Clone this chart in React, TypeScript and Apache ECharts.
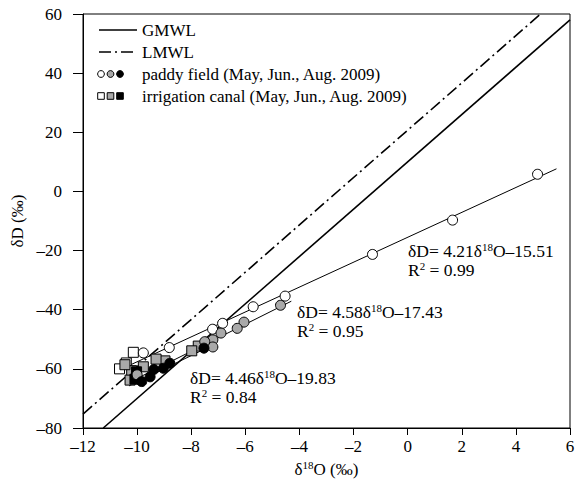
import { useEffect, useRef } from "react";
import * as echarts from "echarts";

const FONT = "'Liberation Serif', 'Times New Roman', serif";

const xMin = -12;
const xMax = 6;
const xInterval = 2;
const yMin = -80;
const yMax = 60;
const yInterval = 20;

// meteoric water lines  δD = slope·δ18O + intercept
const gmwl = { slope: 8, intercept: 10 };
const lmwl = { slope: 8.0, intercept: 20.7 };

// paddy field samples [δ18O, δD]
const paddyMay: number[][] = [
  [4.8, 5.8], [1.66, -9.7], [-1.3, -21.3], [-4.53, -35.4], [-5.71, -39.0],
  [-6.84, -44.6], [-7.21, -46.6], [-8.81, -52.8], [-9.77, -54.6],
];
const paddyJun: number[][] = [
  [-4.7, -38.5], [-6.05, -44.2], [-6.3, -46.3], [-6.9, -47.9], [-7.2, -50.2],
  [-7.2, -52.6], [-7.5, -50.8], [-10.0, -62.0],
];
const paddyAug: number[][] = [
  [-7.53, -53.0], [-8.79, -58.1], [-9.03, -59.8], [-9.38, -60.2], [-9.52, -62.7], [-9.83, -64.3],
];

// irrigation canal samples [δ18O, δD]
const canalMay: number[][] = [[-10.14, -54.4], [-10.4, -58.0], [-10.65, -60.0]];
const canalJun: number[][] = [
  [-7.74, -52.3], [-7.98, -53.9], [-8.97, -57.3], [-9.3, -56.7], [-9.77, -59.3],
  [-10.2, -60.6], [-10.26, -63.8], [-10.45, -58.6],
];
const canalAug: number[][] = [[-10.02, -61.0], [-10.08, -63.5]];

// regression lines
const fitMay = { slope: 4.21, intercept: -15.51, r2: "0.99", from: -10.3, to: 5.5 };
const fitJun = { slope: 4.58, intercept: -17.43, r2: "0.95", from: -10.4, to: -4.3 };
const fitAug = { slope: 4.46, intercept: -19.83, r2: "0.84", from: -10.3, to: -7.4 };

const legendLabels = [
  "GMWL",
  "LMWL",
  "paddy field (May, Jun., Aug. 2009)",
  "irrigation canal (May, Jun., Aug. 2009)",
];

const GRAY = "#a9a9a9";

function segment(slope: number, intercept: number, x0: number, x1: number) {
  const xa = (yMin - intercept) / slope;
  const xb = (yMax - intercept) / slope;
  const a = Math.max(x0, Math.min(xa, xb));
  const b = Math.min(x1, Math.max(xa, xb));
  return [
    [a, slope * a + intercept],
    [b, slope * b + intercept],
  ];
}

const dash = (v: number) => String(v).replace("-", "–");

export default function App() {
  const ref = useRef<HTMLDivElement>(null);
  useEffect(() => {
    if (!ref.current) return;
    const chart = echarts.init(ref.current, undefined, { renderer: "svg" });

    const lineSeries = (data: number[][], width: number, type: any, z = 2) => ({
      type: "line",
      data,
      showSymbol: false,
      symbol: "none",
      silent: true,
      z,
      lineStyle: { color: "#000", width, type },
    });

    const scatter = (data: number[][], symbol: string, fill: string) => ({
      type: "scatter",
      data,
      symbol,
      symbolSize: 10,
      z: 3,
      itemStyle: { color: fill, borderColor: "#000", borderWidth: 1, opacity: 1 },
    });

    const rich = {
      m: { fontSize: 17.5, fontFamily: FONT, fill: "#000", color: "#000", lineHeight: 19 },
      s: { fontSize: 11, fontFamily: FONT, fill: "#000", color: "#000", verticalAlign: "top", lineHeight: 19 },
    };

    const eqText = (f: { slope: number; intercept: number; r2: string }) =>
      `{m|δD= ${f.slope}δ}{s|18}{m|O–${Math.abs(f.intercept)}}\n{m|R}{s|2}{m| = ${f.r2}}`;

    const annPos = [
      { f: fitMay, x: 408, y: 241 },
      { f: fitJun, x: 297, y: 302 },
      { f: fitAug, x: 190, y: 368 },
    ];

    const graphics: any[] = [];
    annPos.forEach((p) => {
      graphics.push({
        type: "text",
        x: p.x,
        y: p.y,
        z: 10,
        style: { text: eqText(p.f), rich, verticalAlign: "top", textVerticalAlign: "top" },
      });
    });

    // legend
    const lx0 = 99;
    const lx1 = 137;
    const tx = 142;
    const rows = [30, 52, 74, 96];
    graphics.push({
      type: "line",
      shape: { x1: lx0, y1: rows[0], x2: lx1, y2: rows[0] },
      style: { stroke: "#000", lineWidth: 1.5 },
    });
    graphics.push({
      type: "line",
      shape: { x1: lx0, y1: rows[1], x2: lx1, y2: rows[1] },
      style: { stroke: "#000", lineWidth: 1.5, lineDash: [12, 4, 2, 4] },
    });
    const fills = ["#fff", GRAY, "#000"];
    fills.forEach((c, i) => {
      graphics.push({
        type: "circle",
        shape: { cx: 101 + i * 9.5, cy: rows[2], r: 3.4 },
        style: { fill: c, stroke: "#000", lineWidth: 1 },
      });
      graphics.push({
        type: "rect",
        shape: { x: 97.7 + i * 9.5, y: rows[3] - 3.3, width: 6.6, height: 6.6 },
        style: { fill: c, stroke: "#000", lineWidth: 1 },
      });
    });
    legendLabels.forEach((t, i) => {
      graphics.push({
        type: "text",
        x: tx,
        y: rows[i],
        style: {
          text: t,
          fill: "#000",
          font: `17px ${FONT}`,
          fontSize: 17,
          fontFamily: FONT,
          verticalAlign: "middle",
          textVerticalAlign: "middle",
        },
      });
    });

    chart.setOption({
      animation: false,
      backgroundColor: "#fff",
      grid: {
        left: 83,
        right: 9,
        top: 14,
        bottom: 65,
        show: true,
        borderColor: "#000",
        borderWidth: 1,
        backgroundColor: "transparent",
      },
      xAxis: {
        type: "value",
        min: xMin,
        max: xMax,
        interval: xInterval,
        name: "δ{s|18}O (‰)",
        nameLocation: "middle",
        nameGap: 26,
        nameTextStyle: {
          fontSize: 17,
          fontFamily: FONT,
          color: "#000",
          rich: {
            s: { fontSize: 11, fontFamily: FONT, color: "#000", verticalAlign: "top", lineHeight: 20 },
          },
        },
        axisLine: { show: true, onZero: false, lineStyle: { color: "#000", width: 1 } },
        axisTick: { show: true, inside: false, length: 7, lineStyle: { color: "#000" } },
        axisLabel: {
          fontSize: 17,
          fontFamily: FONT,
          color: "#000",
          margin: 10,
          formatter: (v: number) => dash(v),
        },
        splitLine: { show: false },
      },
      yAxis: {
        type: "value",
        min: yMin,
        max: yMax,
        interval: yInterval,
        name: "δD (‰)",
        nameLocation: "middle",
        nameGap: 50,
        nameRotate: 90,
        nameTextStyle: { fontSize: 17, fontFamily: FONT, color: "#000" },
        axisLine: { show: true, onZero: false, lineStyle: { color: "#000", width: 1 } },
        axisTick: { show: true, inside: false, length: 10, lineStyle: { color: "#000" } },
        axisLabel: {
          fontSize: 17,
          fontFamily: FONT,
          color: "#000",
          margin: 21,
          formatter: (v: number) => dash(v),
        },
        splitLine: { show: false },
      },
      series: [
        lineSeries(segment(gmwl.slope, gmwl.intercept, xMin, xMax), 1.6, "solid"),
        lineSeries(segment(lmwl.slope, lmwl.intercept, xMin, xMax), 1.6, [12, 4, 2, 4]),
        lineSeries(segment(fitMay.slope, fitMay.intercept, fitMay.from, fitMay.to), 1, "solid"),
        lineSeries(segment(fitJun.slope, fitJun.intercept, fitJun.from, fitJun.to), 1, "solid"),
        lineSeries(segment(fitAug.slope, fitAug.intercept, fitAug.from, fitAug.to), 1, "solid"),
        scatter(canalMay, "rect", "#fff"),
        scatter(canalJun, "rect", GRAY),
        scatter(canalAug, "rect", "#000"),
        scatter(paddyMay, "circle", "#fff"),
        scatter(paddyJun, "circle", GRAY),
        scatter(paddyAug, "circle", "#000"),
      ],
      graphic: graphics,
    });

    return () => chart.dispose();
  }, []);

  return (
    <div
      ref={ref}
      style={{ position: "absolute", left: 0, top: 0, width: 579, height: 493, background: "#fff" }}
    />
  );
}
